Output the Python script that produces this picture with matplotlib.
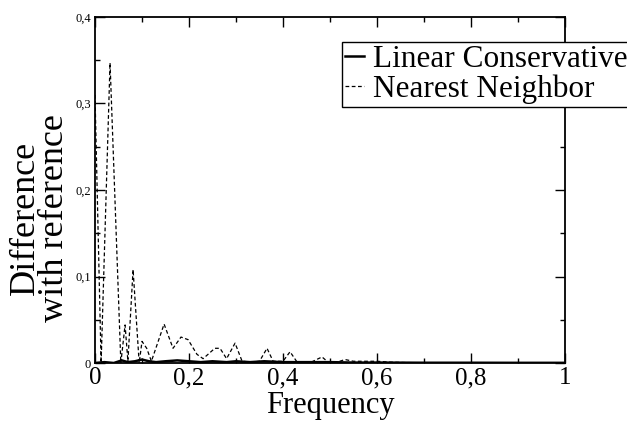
import numpy as np
import matplotlib.pyplot as plt
from matplotlib.ticker import MultipleLocator, FuncFormatter

# Nearest Neighbor curve (dashed)
nn_x = [0, 0.013, 0.032, 0.055, 0.064, 0.07, 0.081, 0.094, 0.1, 0.11, 0.12,
        0.147, 0.166, 0.183, 0.198, 0.217, 0.23, 0.255, 0.266, 0.28, 0.298,
        0.313, 0.334, 0.35, 0.366, 0.379, 0.4, 0.415, 0.43, 0.46, 0.483,
        0.496, 0.515, 0.532, 0.55, 0.575, 0.6, 0.628, 0.66, 0.7, 0.75, 0.8,
        0.85, 0.9, 0.95, 1.0]
nn_y = [0.31, 0.0, 0.347, 0.0, 0.044, 0.002, 0.108, 0.0, 0.025, 0.017, 0.002,
        0.045, 0.017, 0.03, 0.027, 0.01, 0.005, 0.017, 0.017, 0.005, 0.023,
        0.002, 0.001, 0.002, 0.017, 0.002, 0.002, 0.013, 0.001, 0.001, 0.007,
        0.001, 0.001, 0.004, 0.002, 0.002, 0.002, 0.001, 0.0005, 0.0003,
        0.0002, 0.0002, 0.0001, 0.0001, 0.0001, 0.0]

# Linear Conservative curve (solid)
lc_x = [0, 0.02, 0.04, 0.057, 0.07, 0.085, 0.1, 0.115, 0.13, 0.15, 0.175,
        0.2, 0.225, 0.25, 0.28, 0.3, 0.33, 0.36, 0.4, 0.45, 0.5, 0.55, 0.6,
        0.7, 0.8, 0.9, 1.0]
lc_y = [0.0, 0.001, 0.0, 0.003, 0.001, 0.002, 0.004, 0.002, 0.001, 0.002,
        0.003, 0.002, 0.001, 0.002, 0.001, 0.002, 0.001, 0.002, 0.001, 0.001,
        0.001, 0.0005, 0.0005, 0.0003, 0.0003, 0.0002, 0.0002]

plt.rcParams['font.family'] = ['Liberation Serif', 'DejaVu Serif']

fig = plt.figure(figsize=(6.27, 4.23), dpi=100)
ax = fig.add_axes([95/627, 1-363/423, 470/627, 346/423])

ax.plot(lc_x, lc_y, color='black', lw=1.8, label='Linear Conservative')
ax.plot(nn_x, nn_y, color='black', lw=0.9, dashes=(3, 2), label='Nearest Neighbor')

ax.set_xlim(0, 1)
ax.set_ylim(0, 0.4)

def comma(v, pos):
    s = '%g' % round(v, 3)
    return s.replace('.', ',')

ax.xaxis.set_major_locator(MultipleLocator(0.2))
ax.xaxis.set_minor_locator(MultipleLocator(0.1))
ax.yaxis.set_major_locator(MultipleLocator(0.1))
ax.yaxis.set_minor_locator(MultipleLocator(0.05))
ax.xaxis.set_major_formatter(FuncFormatter(comma))
ax.yaxis.set_major_formatter(FuncFormatter(comma))
ax.tick_params(which='both', direction='in', top=True, right=True, width=1)
ax.tick_params(which='major', length=7)
ax.tick_params(which='minor', length=3.5)
ax.tick_params(axis='x', labelsize=18, pad=3)
ax.tick_params(axis='y', labelsize=9, pad=3)
for sp in ax.spines.values():
    sp.set_linewidth(1.3)

fig.text(330/627, 1-405/423, 'Frequency', fontsize=22, ha='center', va='center')
fig.text(40/627, 1-218/423, 'Difference\nwith reference', fontsize=26,
         rotation=90, ha='center', va='center', multialignment='center',
         linespacing=0.86)

leg = ax.legend(loc='upper left', bbox_to_anchor=(342/627, 1-42/423),
                bbox_transform=fig.transFigure, fontsize=22.5, frameon=True,
                fancybox=False, edgecolor='black', borderaxespad=0,
                handlelength=0.6, handletextpad=0.3, borderpad=0.1,
                labelspacing=0.0)
leg.get_frame().set_linewidth(1)
leg.get_frame().set_alpha(1)

fig.savefig('out.png', dpi=100)
